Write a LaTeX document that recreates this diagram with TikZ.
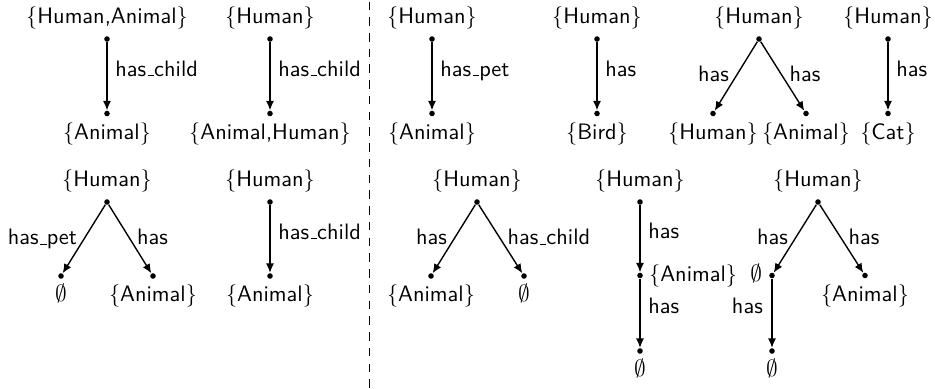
\documentclass[tikz,border=0pt]{standalone}
\usetikzlibrary{arrows.meta,positioning}
\newcommand{\usc}{\kern.06em\vbox{\hrule width.3em}}
\newcommand{\lblfont}{\sffamily\fontsize{10.5}{12}\selectfont}
\begin{document}
\begin{tikzpicture}[x=0.47pt,y=-0.47pt,
  dot/.style={circle,fill,inner sep=0pt,minimum size=2.6pt},
  edge/.style={line width=0.65pt,-{Latex[length=4.4pt,width=3.8pt]}},
  txt/.style={inner sep=0pt,text height=7.9pt,text depth=2.6pt,font=\lblfont},
  vright/.style={inner sep=0pt,font=\lblfont,anchor=base west,xshift=3.6pt},
  vleft/.style={inner sep=0pt,font=\lblfont,anchor=base east,xshift=-4pt},
  dleft/.style={inner sep=0pt,font=\lblfont,anchor=base east,xshift=-3pt,yshift=-2.6pt},
  dright/.style={inner sep=0pt,font=\lblfont,anchor=base west,xshift=3pt,yshift=-2.6pt},
  sep/.style={line width=0.65pt,dash pattern=on 4pt off 3.4pt}]
\useasboundingbox (0,0) rectangle (935,388);
% separator
\coordinate (dtop) at (369.5,1.5);
\coordinate (dbot) at (369.5,388);
\draw[sep] (dtop) -- (dbot);
% ---- row 1 ----
% P1
\node[dot] (r1) at (107,39) {};
\node[dot] (l1) at (107,113.5) {};
\node[txt,above=2.8pt of r1] (r1t) {\{Human,Animal\}};
\node[txt,below=2.5pt of l1] (l1t) {\{Animal\}};
\draw[edge] (r1) -- node[vright,pos=0.5] {has\usc child} (l1);
% P2
\node[dot] (r2) at (270,39) {};
\node[dot] (l2) at (270,113.5) {};
\node[txt,above=2.8pt of r2] (r2t) {\{Human\}};
\node[txt,below=2.5pt of l2] (l2t) {\{Animal,Human\}};
\draw[edge] (r2) -- node[vright,pos=0.5] {has\usc child} (l2);
% P3
\node[dot] (r3) at (432,39) {};
\node[dot] (l3) at (432,113.5) {};
\node[txt,above=2.8pt of r3] (r3t) {\{Human\}};
\node[txt,below=2.5pt of l3] (l3t) {\{Animal\}};
\draw[edge] (r3) -- node[vright,pos=0.5] {has\usc pet} (l3);
% P4
\node[dot] (r4) at (597,39) {};
\node[dot] (l4) at (597,113.5) {};
\node[txt,above=2.8pt of r4] (r4t) {\{Human\}};
\node[txt,below=2.5pt of l4] (l4t) {\{Bird\}};
\draw[edge] (r4) -- node[vright,pos=0.5] {has} (l4);
% P5
\node[dot] (r5) at (759,39) {};
\node[dot] (l5a) at (713,113.5) {};
\node[dot] (l5b) at (806,113.5) {};
\node[txt,above=2.8pt of r5] (r5t) {\{Human\}};
\node[txt,below=2.5pt of l5a] (l5at) {\{Human\}};
\node[txt,below=2.5pt of l5b] (l5bt) {\{Animal\}};
\draw[edge] (r5) -- node[dleft,pos=0.5] {has} (l5a);
\draw[edge] (r5) -- node[dright,pos=0.5] {has} (l5b);
% P6
\node[dot] (r6) at (888,39) {};
\node[dot] (l6) at (888,113.5) {};
\node[txt,above=2.8pt of r6] (r6t) {\{Human\}};
\node[txt,below=2.5pt of l6] (l6t) {\{Cat\}};
\draw[edge] (r6) -- node[vright,pos=0.5] {has} (l6);
% ---- row 2 ----
% PA
\node[dot] (rA) at (107,202) {};
\node[dot] (lAa) at (61,276) {};
\node[dot] (lAb) at (153,276) {};
\node[txt,above=2.8pt of rA] (rAt) {\{Human\}};
\node[txt,below=2.5pt of lAa] (lAat) {$\emptyset$};
\node[txt,below=2.5pt of lAb] (lAbt) {\{Animal\}};
\draw[edge] (rA) -- node[dleft,pos=0.5] {has\usc pet} (lAa);
\draw[edge] (rA) -- node[dright,pos=0.5] {has} (lAb);
% PB
\node[dot] (rB) at (270,202) {};
\node[dot] (lB) at (270,276) {};
\node[txt,above=2.8pt of rB] (rBt) {\{Human\}};
\node[txt,below=2.5pt of lB] (lBt) {\{Animal\}};
\draw[edge] (rB) -- node[vright,pos=0.5] {has\usc child} (lB);
% PC
\node[dot] (rC) at (477,202) {};
\node[dot] (lCa) at (431,276) {};
\node[dot] (lCb) at (524,276) {};
\node[txt,above=2.8pt of rC] (rCt) {\{Human\}};
\node[txt,below=2.5pt of lCa] (lCat) {\{Animal\}};
\node[txt,below=2.5pt of lCb] (lCbt) {$\emptyset$};
\draw[edge] (rC) -- node[dleft,pos=0.5] {has} (lCa);
\draw[edge] (rC) -- node[dright,pos=0.5] {has\usc child} (lCb);
% PD
\node[dot] (rD) at (640,202) {};
\node[dot] (mD) at (640,275.5) {};
\node[dot] (lD) at (640,351) {};
\node[txt,above=2.8pt of rD] (rDt) {\{Human\}};
\node[txt,right=2.6pt of mD] (mDt) {\{Animal\}};
\node[txt,below=2.5pt of lD] (lDt) {$\emptyset$};
\draw[edge] (rD) -- node[vright,pos=0.5] {has} (mD);
\draw[edge] (mD) -- node[vright,pos=0.5] {has} (lD);
% PE
\node[dot] (rE) at (818,202) {};
\node[dot] (mE) at (772,275.5) {};
\node[dot] (lEb) at (865,275.5) {};
\node[dot] (lE) at (772,351) {};
\node[txt,above=2.8pt of rE] (rEt) {\{Human\}};
\node[txt,left=3pt of mE] (mEt) {$\emptyset$};
\node[txt,below=2.5pt of lEb] (lEbt) {\{Animal\}};
\node[txt,below=2.5pt of lE] (lEt) {$\emptyset$};
\draw[edge] (rE) -- node[dleft,pos=0.5] {has} (mE);
\draw[edge] (rE) -- node[dright,pos=0.5] {has} (lEb);
\draw[edge] (mE) -- node[vleft,pos=0.5] {has} (lE);
\end{tikzpicture}
\end{document}
